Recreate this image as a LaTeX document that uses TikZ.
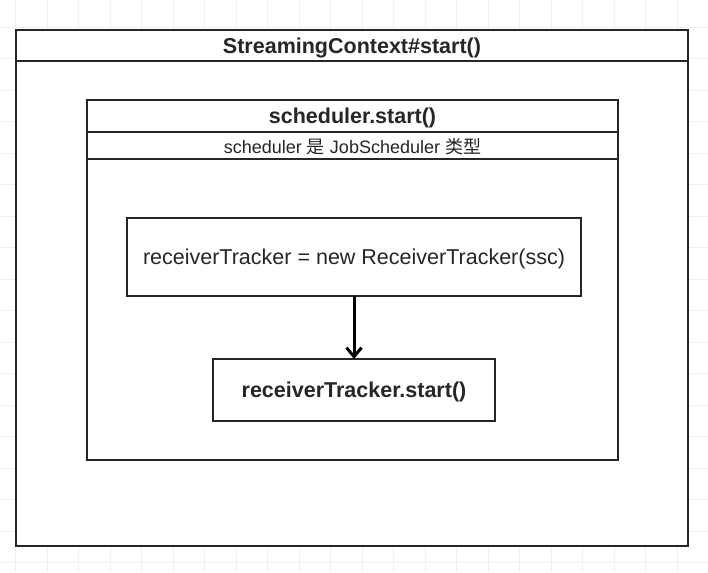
\documentclass[tikz,border=0pt]{standalone}
\usepackage{fontspec}
\setmainfont{Liberation Sans}
\newfontfamily\cjk{Noto Sans CJK SC}
\usetikzlibrary{positioning,arrows.meta}

\begin{document}
\begin{tikzpicture}[x=1pt, y=-1pt, node distance={63pt},
    box/.style = {draw=black!85, fill=white, line width=1.4pt, outer sep=0pt, inner sep=0pt},
    head/.style = {text=black!85, text depth=0pt, font=\fontsize{21.5}{24}\selectfont\bfseries},
    plain/.style = {text=black!85, text depth=0pt, font=\fontsize{21.5}{24}\selectfont},
    small/.style = {text=black!85, text depth=0pt, font=\fontsize{18}{20}\selectfont},
    gridline/.style = {draw=black!6, line width=0.6pt},
    link/.style = {draw=black, line width=3pt, -{Straight Barb[length=9pt, width=15pt]}}]
    \useasboundingbox (0,0) rectangle (708,572);
    % background grid
    \foreach \x in {15.5,47,...,708} \draw[gridline] (\x,0) -- (\x,572);
    \foreach \y in {27,58.5,...,572} \draw[gridline] (0,\y) -- (708,\y);

    % StreamingContext
    \node[box, minimum width=672pt, minimum height=516pt] (0) at (352,288) {};
    \draw[box] ([yshift=-31pt]0.north west) -- ([yshift=-31pt]0.north east);
    \node[head] (t0) at (352,46) {StreamingContext\#start()};

    % scheduler
    \node[box, minimum width=531pt, minimum height=360pt] (s) at (352.5,280) {};
    \draw[box] ([yshift=-32pt]s.north west) -- ([yshift=-32pt]s.north east);
    \draw[box] ([yshift=-59pt]s.north west) -- ([yshift=-59pt]s.north east);
    \node[head] (ts) at (352.5,116) {scheduler.start()};
    \node[small] (us) at (352.5,146) {scheduler {\cjk 是} JobScheduler {\cjk 类型}};

    \node[box, plain, minimum width=454pt, minimum height=78pt] (1) at (354,257) {receiverTracker = new ReceiverTracker(ssc)};
    \node[box, head, minimum width=282pt, minimum height=62pt] (2) [below=of 1] {receiverTracker.start()};
    \path[link] (1) -- (2);
\end{tikzpicture}
\end{document}
